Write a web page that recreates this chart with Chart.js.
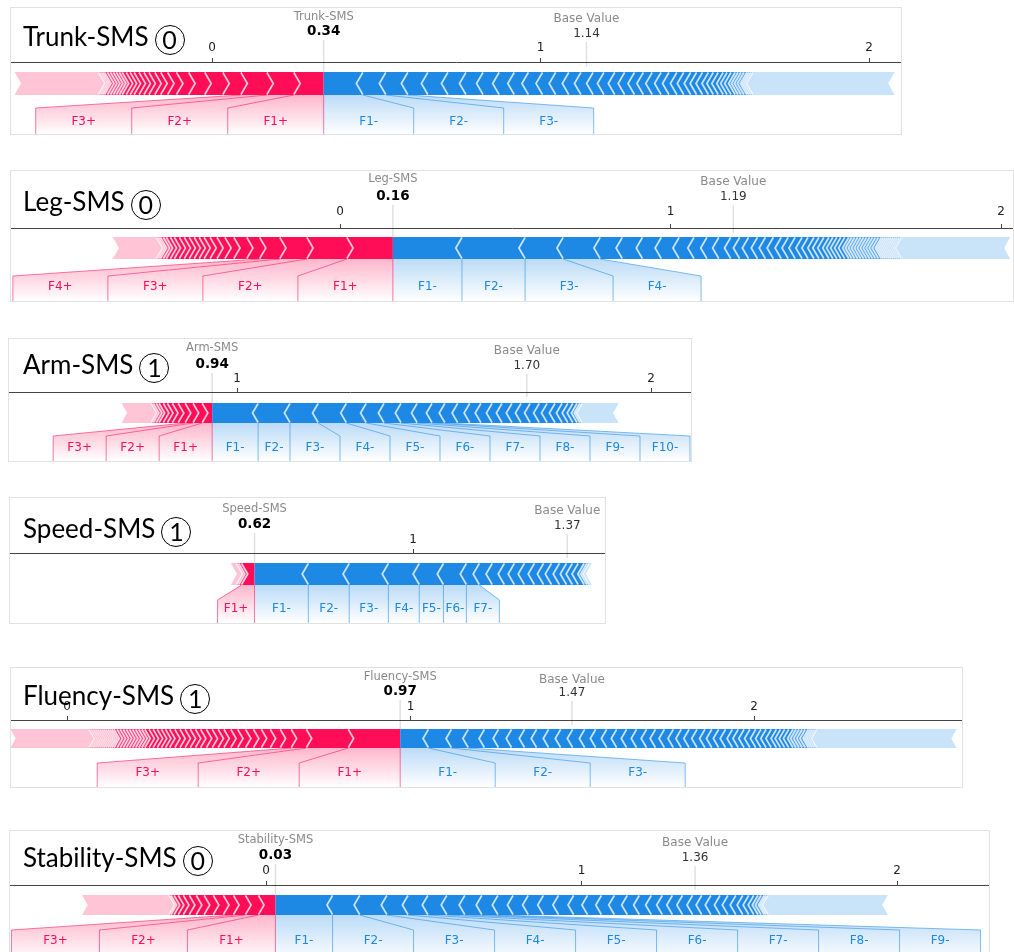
<!DOCTYPE html>
<html>
<head>
<meta charset="utf-8">
<script src="https://cdn.jsdelivr.net/npm/chart.js@4.4.1/dist/chart.umd.min.js"></script>
<style>
  body { margin: 0; width: 1014px; height: 952px; overflow: hidden; position: relative; background: #fff; }
  .panel { position: absolute; box-sizing: border-box; border: 1px solid #e2e2e2; background: #fff; overflow: hidden; }
  .panel canvas { position: absolute; left: 0; top: 0; }
  .title { position: absolute; left: 23px; height: 34px; line-height: 34px; font-family: Lato, "DejaVu Sans", sans-serif;
           font-size: 26px; color: #000; white-space: nowrap; z-index: 2; }
  .circ { display: inline-block; box-sizing: border-box; width: 30px; height: 30px; border: 1.5px solid #000; border-radius: 50%;
          margin-left: 6px; text-align: center; line-height: 27px; font-size: 25px; position: relative; top: 6px; vertical-align: top; }
</style>
</head>
<body>
<script>
// ---- data ----
const panelNames = ["Trunk-SMS", "Leg-SMS", "Arm-SMS", "Speed-SMS", "Fluency-SMS", "Stability-SMS"];
const predictedClass = [0, 0, 1, 1, 1, 0];
const outputValues = [0.34, 0.16, 0.94, 0.62, 0.97, 0.03];
const baseValues = [1.14, 1.19, 1.70, 1.37, 1.47, 1.36];
const axisTicks = [[0, 1, 2], [0, 1, 2], [1, 2], [1], [0, 1, 2], [0, 1, 2]];

const trunkPosLabels = ["F1+", "F2+", "F3+"];
const trunkPos = [0.091, 0.082, 0.079, 0.055, 0.055, 0.049, 0.037, 0.027, 0.021, 0.018, 0.018, 0.015, 0.015, 0.015,
  0.012, 0.012, 0.012, 0.009, 0.009, 0.009, 0.009, 0.009, 0.009, 0.006, 0.006, 0.006];
const trunkPosRest = 0.256;
const trunkNegLabels = ["F1-", "F2-", "F3-"];
const trunkNeg = [0.119, 0.070, 0.067, 0.061, 0.061, 0.055, 0.052, 0.049, 0.046, 0.043, 0.043, 0.040, 0.040, 0.037,
  0.037, 0.033, 0.033, 0.030, 0.030, 0.027, 0.027, 0.027, 0.024, 0.024, 0.021, 0.021, 0.018, 0.018, 0.018, 0.015,
  0.015, 0.015, 0.012, 0.012, 0.012, 0.009, 0.009, 0.009, 0.009, 0.006, 0.006, 0.006];
const trunkNegRest = 0.432;

const legPosLabels = ["F1+", "F2+", "F3+", "F4+"];
const legPos = [0.139, 0.121, 0.082, 0.061, 0.039, 0.039, 0.027, 0.024, 0.021, 0.018, 0.015, 0.015, 0.015, 0.015,
  0.015, 0.015, 0.012, 0.012, 0.009, 0.009, 0.006, 0.006];
const legPosRest = 0.133;
const legNegLabels = ["F1-", "F2-", "F3-", "F4-"];
const legNeg = [0.209, 0.191, 0.115, 0.112, 0.067, 0.061, 0.057, 0.054, 0.045, 0.039, 0.036, 0.036, 0.027, 0.027,
  0.027, 0.024, 0.024, 0.024, 0.021, 0.021, 0.021, 0.018, 0.018, 0.015, 0.015, 0.015, 0.012, 0.012, 0.012, 0.012,
  0.012, 0.009, 0.009, 0.009, 0.009, 0.009, 0.009, 0.009, 0.009, 0.009, 0.009, 0.009, 0.006, 0.006, 0.006, 0.006,
  0.006, 0.006, 0.006, 0.006, 0.006, 0.006];
const legNegRest = 0.330;

const armPosLabels = ["F1+", "F2+", "F3+"];
const armPos = [0.024, 0.022, 0.019, 0.017, 0.014, 0.012, 0.010, 0.010, 0.007, 0.007, 0.005];
const armPosRest = 0.072;
const armNegLabels = ["F1-", "F2-", "F3-", "F4-", "F5-", "F6-", "F7-", "F8-", "F9-", "F10-"];
const armNeg = [0.111, 0.077, 0.068, 0.068, 0.048, 0.043, 0.041, 0.039, 0.036, 0.031, 0.031, 0.029, 0.027, 0.027,
  0.024, 0.024, 0.022, 0.022, 0.022, 0.019, 0.019, 0.017, 0.014, 0.012, 0.010, 0.007, 0.005];
const armNegRest = 0.089;

const speedPosLabels = ["F1+"];
const speedPos = [0.031, 0.007, 0.005];
const speedPosRest = 0.014;
const speedNegLabels = ["F1-", "F2-", "F3-", "F4-", "F5-", "F6-", "F7-"];
const speedNeg = [0.129, 0.098, 0.094, 0.074, 0.058, 0.055, 0.031, 0.031, 0.029, 0.024, 0.024, 0.024, 0.022, 0.019,
  0.019, 0.017, 0.014, 0.014, 0.014, 0.007, 0.005];
const speedNegRest = 0.007;

const fluencyPosLabels = ["F1+", "F2+", "F3+"];
const fluencyPos = [0.151, 0.122, 0.044, 0.032, 0.029, 0.026, 0.023, 0.023, 0.023, 0.020, 0.020, 0.017, 0.017, 0.017,
  0.017, 0.015, 0.015, 0.015, 0.015, 0.015, 0.015, 0.012, 0.012, 0.012, 0.012, 0.012, 0.012, 0.009, 0.009, 0.009,
  0.009, 0.009, 0.009, 0.009, 0.009, 0.009, 0.009, 0.006, 0.006, 0.006, 0.006, 0.006, 0.006, 0.006, 0.006, 0.006,
  0.006, 0.006, 0.006];
const fluencyPosRest = 0.230;
const fluencyNegLabels = ["F1-", "F2-", "F3-"];
const fluencyNeg = [0.082, 0.067, 0.049, 0.047, 0.041, 0.038, 0.038, 0.035, 0.035, 0.035, 0.035, 0.035, 0.032, 0.032,
  0.029, 0.029, 0.029, 0.029, 0.026, 0.026, 0.026, 0.023, 0.023, 0.023, 0.023, 0.020, 0.020, 0.020, 0.020, 0.017,
  0.017, 0.017, 0.017, 0.015, 0.015, 0.015, 0.015, 0.012, 0.012, 0.012, 0.012, 0.009, 0.009, 0.009, 0.009, 0.009,
  0.006, 0.006, 0.006, 0.006];
const fluencyNegRest = 0.408;

const stabilityPosLabels = ["F1+", "F2+", "F3+"];
const stabilityPos = [0.054, 0.041, 0.038, 0.032, 0.032, 0.029, 0.025, 0.022, 0.019, 0.016, 0.013, 0.010, 0.006];
const stabilityPosRest = 0.276;
const stabilityNegLabels = ["F1-", "F2-", "F3-", "F4-", "F5-", "F6-", "F7-", "F8-", "F9-"];
const stabilityNeg = [0.181, 0.086, 0.086, 0.067, 0.063, 0.060, 0.057, 0.054, 0.051, 0.048, 0.048, 0.048, 0.048,
  0.048, 0.044, 0.044, 0.041, 0.041, 0.038, 0.038, 0.035, 0.032, 0.032, 0.032, 0.029, 0.029, 0.029, 0.025, 0.025,
  0.022, 0.019, 0.016, 0.013, 0.010, 0.010, 0.006, 0.006];
const stabilityNegRest = 0.380;

const series = [
  { pos: trunkPos, posRest: trunkPosRest, posLabels: trunkPosLabels, neg: trunkNeg, negRest: trunkNegRest, negLabels: trunkNegLabels },
  { pos: legPos, posRest: legPosRest, posLabels: legPosLabels, neg: legNeg, negRest: legNegRest, negLabels: legNegLabels },
  { pos: armPos, posRest: armPosRest, posLabels: armPosLabels, neg: armNeg, negRest: armNegRest, negLabels: armNegLabels },
  { pos: speedPos, posRest: speedPosRest, posLabels: speedPosLabels, neg: speedNeg, negRest: speedNegRest, negLabels: speedNegLabels },
  { pos: fluencyPos, posRest: fluencyPosRest, posLabels: fluencyPosLabels, neg: fluencyNeg, negRest: fluencyNegRest, negLabels: fluencyNegLabels },
  { pos: stabilityPos, posRest: stabilityPosRest, posLabels: stabilityPosLabels, neg: stabilityNeg, negRest: stabilityNegRest, negLabels: stabilityNegLabels },
];

// ---- layout (page pixels) ----
const layout = [
  { left: 10, top: 7, w: 892, h: 128, zero: 212, ppu: 328.5, axis: 62, barGap: 10, barH: 23, slant: 46, text: 60,
    outName: -45, outVal: -31, baseName: -43, baseVal: -28, tickPad: 3, titleY: 37, wPos: 96, wNeg: 90 },
  { left: 10, top: 170, w: 1004, h: 132, zero: 340, ppu: 330.5, axis: 228, barGap: 9, barH: 22, slant: 48, text: 59,
    outName: -49, outVal: -32, baseName: -46, baseVal: -31, tickPad: 5, titleY: 202, wPos: 95, wNeg: 88 },
  { left: 8, top: 338, w: 684, h: 124, zero: -177, ppu: 414, axis: 392, barGap: 11, barH: 20, slant: 44, text: 56,
    outName: -44, outVal: -28, baseName: -41, baseVal: -26, tickPad: 2, titleY: 365, wPos: 53, wNeg: 50 },
  { left: 9, top: 497, w: 597, h: 127, zero: -4, ppu: 417, axis: 553, barGap: 10, barH: 22, slant: 47, text: 56,
    outName: -44, outVal: -29, baseName: -42, baseVal: -27, tickPad: 2, titleY: 529, wPos: 37, wNeg: 33 },
  { left: 10, top: 667, w: 953, h: 121, zero: 67, ppu: 343.5, axis: 720, barGap: 9, barH: 19, slant: 43, text: 53,
    outName: -43, outVal: -29, baseName: -40, baseVal: -27, tickPad: 2, titleY: 696, wPos: 101, wNeg: 95 },
  { left: 9, top: 830, w: 981, h: 132, zero: 266, ppu: 315.5, axis: 885, barGap: 10, barH: 20, slant: 45, text: 56,
    outName: -45, outVal: -30, baseName: -42, baseVal: -27, tickPad: 3, titleY: 858, wPos: 88, wNeg: 81 },
];

const RED = [255, 13, 87];
const BLUE = [30, 136, 229];
const rgba = (c, a) => `rgba(${c[0]},${c[1]},${c[2]},${a})`;
const FONT = '"DejaVu Sans", sans-serif';

function sideEdges(output, effects, rest, d) {
  const edges = [output];
  let v = output;
  effects.forEach((e) => { v += d * e; edges.push(v); });
  return { edges: edges, end: v + d * rest };
}

function drawBlocks(ctx, X, Xend, d, col, top, bot, off) {
  const mid = (top + bot) / 2;
  const poly = (xi, xo, tip, fill) => {
    ctx.beginPath();
    ctx.moveTo(xi, top);
    ctx.lineTo(xi - d * tip, mid);
    ctx.lineTo(xi, bot);
    ctx.lineTo(xo, bot);
    ctx.lineTo(xo - d * off, mid);
    ctx.lineTo(xo, top);
    ctx.closePath();
    ctx.fillStyle = fill;
    ctx.fill();
  };
  poly(X[X.length - 1], Xend, off, rgba(col, 0.24));
  for (let i = 0; i < X.length - 1; i++) {
    const w = Math.abs(X[i + 1] - X[i]);
    const a = w >= 4 ? 1 : Math.max(0.45, 0.45 + (w - 1) * 0.18);
    poly(X[i], X[i + 1], i ? off : 0, rgba(col, a));
  }
  ctx.strokeStyle = "rgba(255,255,255,0.72)";
  ctx.lineWidth = 1.8;
  for (let i = 1; i < X.length; i++) {
    ctx.beginPath();
    ctx.moveTo(X[i], top + 0.5);
    ctx.lineTo(X[i] - d * off, mid);
    ctx.lineTo(X[i], bot - 0.5);
    ctx.stroke();
  }
}

function drawLabels(ctx, X, names, labelW, d, col, bot, slantY, textY, H) {
  const boxes = [];
  let prev = X[0];
  names.forEach((n, i) => {
    const fe = X[i + 1];
    const outer = (fe - prev) * d >= 0.6 * labelW ? fe : prev + d * labelW;
    boxes.push([prev, outer]);
    prev = outer;
  });
  const g = ctx.createLinearGradient(0, bot, 0, H);
  g.addColorStop(0, rgba(col, 0.3));
  g.addColorStop(1, rgba(col, 0));
  boxes.forEach((b, i) => {
    ctx.beginPath();
    ctx.moveTo(X[i], bot);
    ctx.lineTo(X[i + 1], bot);
    ctx.lineTo(b[1], slantY);
    ctx.lineTo(b[1], H);
    ctx.lineTo(b[0], H);
    ctx.lineTo(b[0], slantY);
    ctx.closePath();
    ctx.fillStyle = g;
    ctx.fill();
  });
  ctx.strokeStyle = rgba(col, 0.55);
  ctx.lineWidth = 1;
  boxes.forEach((b, i) => {
    ctx.beginPath();
    ctx.moveTo(X[i + 1], bot);
    ctx.lineTo(b[1], slantY);
    ctx.lineTo(b[1], H);
    ctx.stroke();
  });
  ctx.fillStyle = rgba(col, 1);
  ctx.font = "12px " + FONT;
  ctx.textAlign = "center";
  ctx.textBaseline = "middle";
  boxes.forEach((b, i) => ctx.fillText(names[i], (b[0] + b[1]) / 2, textY));
}

function forcePlugin(i) {
  return {
    id: "force" + i,
    afterDraw(chart) {
      const L = layout[i], S = series[i];
      const ctx = chart.ctx, xs = chart.scales.x, A = chart.chartArea.top, H = chart.height;
      const px = (v) => xs.getPixelForValue(v);
      const top = A + L.barGap, bot = top + L.barH, off = L.barH * 0.28;
      const out = outputValues[i], base = baseValues[i];
      const pos = sideEdges(out, S.pos, S.posRest, -1);
      const neg = sideEdges(out, S.neg, S.negRest, 1);
      const XP = pos.edges.map(px), XN = neg.edges.map(px);
      ctx.save();
      drawLabels(ctx, XN, S.negLabels, L.wNeg, 1, BLUE, bot, A + L.slant, A + L.text, H);
      drawLabels(ctx, XP, S.posLabels, L.wPos, -1, RED, bot, A + L.slant, A + L.text, H);
      ctx.strokeStyle = rgba(RED, 0.55);
      ctx.beginPath();
      ctx.moveTo(px(out), bot);
      ctx.lineTo(px(out), H);
      ctx.stroke();
      drawBlocks(ctx, XP, px(pos.end), -1, RED, top, bot, off);
      drawBlocks(ctx, XN, px(neg.end), 1, BLUE, top, bot, off);

      // output and base value markers
      ctx.strokeStyle = "rgba(0,0,0,0.12)";
      ctx.lineWidth = 1.5;
      ctx.beginPath();
      ctx.moveTo(px(out), A + L.outVal + 9);
      ctx.lineTo(px(out), top);
      ctx.moveTo(px(base), A + L.baseVal + 8);
      ctx.lineTo(px(base), A + 5);
      ctx.stroke();
      ctx.textAlign = "center";
      ctx.textBaseline = "middle";
      ctx.fillStyle = "#8a8a8a";
      ctx.font = "11.5px " + FONT;
      ctx.fillText(panelNames[i], px(out), A + L.outName);
      ctx.font = "12px " + FONT;
      ctx.fillText("Base Value", px(base), A + L.baseName);
      ctx.fillStyle = "#000";
      ctx.font = "bold 13.5px " + FONT;
      ctx.fillText(out.toFixed(2), px(out), A + L.outVal);
      ctx.fillStyle = "#333";
      ctx.font = "12px " + FONT;
      ctx.fillText(base.toFixed(2), px(base), A + L.baseVal);
      ctx.restore();
    },
  };
}

function makePanel(i) {
  const L = layout[i];
  const div = document.createElement("div");
  div.className = "panel";
  div.style.left = L.left + "px";
  div.style.top = L.top + "px";
  div.style.width = L.w + "px";
  div.style.height = L.h + "px";
  const canvas = document.createElement("canvas");
  canvas.width = L.w - 2;
  canvas.height = L.h - 2;
  div.appendChild(canvas);
  document.body.appendChild(div);

  const title = document.createElement("div");
  title.className = "title";
  title.style.top = L.titleY - 18 + "px";
  title.textContent = panelNames[i];
  const circ = document.createElement("span");
  circ.className = "circ";
  circ.textContent = String(predictedClass[i]);
  title.appendChild(circ);
  document.body.appendChild(title);

  const axisH = L.axis - L.top - 1;
  new Chart(canvas, {
    type: "scatter",
    data: { datasets: [] },
    options: {
      responsive: false,
      animation: false,
      layout: { padding: 0 },
      plugins: { legend: { display: false }, tooltip: { enabled: false } },
      scales: {
        x: {
          type: "linear",
          position: "top",
          min: (L.left + 1 - L.zero) / L.ppu,
          max: (L.left + L.w - 1 - L.zero) / L.ppu,
          afterBuildTicks: (scale) => {
            scale.ticks = axisTicks[i].map((v) => ({ value: v }));
          },
          afterFit: (scale) => {
            scale.height = axisH;
          },
          border: { display: true, color: "#444", width: 1 },
          grid: { display: true, drawOnChartArea: false, drawTicks: true, tickLength: 4, color: "#444" },
          ticks: { color: "#222", padding: L.tickPad, maxRotation: 0, autoSkip: false, font: { family: FONT, size: 12 } },
        },
        y: { display: false, min: 0, max: 1 },
      },
    },
    plugins: [forcePlugin(i)],
  });
}

for (let i = 0; i < layout.length; i++) makePanel(i);
</script>
</body>
</html>
